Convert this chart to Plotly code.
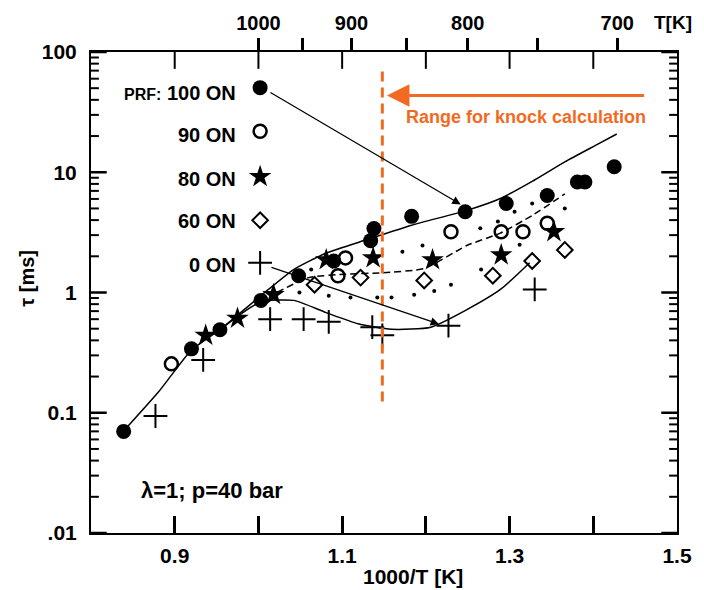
import numpy as np
import plotly.graph_objects as go

# Ignition delay of PRF blends, lambda = 1, p = 40 bar
# x: 1000/T [1/K], y: tau [ms]
prf100_x = [0.839, 0.920, 0.954, 1.003, 1.048, 1.090, 1.134, 1.138, 1.183,
            1.247, 1.296, 1.345, 1.381, 1.390, 1.425]
prf100_y = [0.070, 0.34, 0.49, 0.86, 1.38, 1.83, 2.7, 3.4, 4.3,
            4.7, 5.5, 6.4, 8.3, 8.3, 11.1]

prf90_x = [0.896, 1.095, 1.104, 1.230, 1.290, 1.316, 1.345]
prf90_y = [0.255, 1.38, 1.94, 3.2, 3.2, 3.2, 3.77]

prf80_x = [0.937, 0.975, 1.018, 1.081, 1.137, 1.208, 1.290, 1.353]
prf80_y = [0.44, 0.61, 0.96, 1.87, 1.94, 1.87, 2.05, 3.2]

prf60_x = [1.067, 1.122, 1.198, 1.280, 1.327, 1.366]
prf60_y = [1.16, 1.33, 1.26, 1.38, 1.83, 2.26]

prf0_x = [0.877, 0.934, 1.014, 1.054, 1.084, 1.136, 1.148, 1.227, 1.330]
prf0_y = [0.094, 0.275, 0.60, 0.60, 0.57, 0.515, 0.44, 0.53, 1.06]

# scattered small measurement dots between the curves
dots_x = [1.063, 1.049, 1.084, 1.110, 1.142, 1.159, 1.172, 1.196, 1.210,
          1.186, 1.230, 1.265, 1.266, 1.306, 1.327, 1.366, 1.286, 1.312]
dots_y = [1.55, 1.0, 0.94, 0.91, 0.91, 0.91, 2.18, 2.46, 1.03,
          0.96, 1.16, 3.42, 1.55, 4.7, 5.5, 5.0, 3.9, 2.5]

# model curves
upper_x = [0.839, 0.881, 0.920, 0.954, 1.002, 1.042, 1.081, 1.128, 1.183,
           1.249, 1.289, 1.327, 1.366, 1.406, 1.428]
upper_y = [0.0705, 0.150, 0.333, 0.49, 0.93, 1.55, 2.13, 2.73, 3.63,
           4.82, 6.05, 8.4, 12.2, 17.2, 20.8]

middle_x = [1.022, 1.060, 1.104, 1.148, 1.198, 1.249, 1.289, 1.327, 1.366]
middle_y = [1.0, 1.33, 1.42, 1.46, 1.58, 2.46, 3.12, 4.37, 6.6]

lower_x = [0.954, 1.002, 1.042, 1.081, 1.119, 1.159, 1.206, 1.249, 1.289, 1.324]
lower_y = [0.49, 0.83, 0.86, 0.68, 0.55, 0.495, 0.515, 0.72, 1.06, 1.77]

legend_labels = ["100 ON", "90 ON", "80 ON", "60 ON", "0 ON"]

x_ticks = [0.8, 0.9, 1.0, 1.1, 1.2, 1.3, 1.4, 1.5]
x_labels = ["", "0.9", "", "1.1", "", "1.3", "", "1.5"]

y_ticks = [0.01, 0.1, 1, 10, 100]
y_labels = [".01", "0.1", "1", "10", "100"]

temp_ticks = [1000, 950, 900, 850, 800, 750, 700]
temp_labels = ["1000", "", "900", "", "800", "", "700"]

knock_limit = 1.148          # 1000/T of the knock range border
knock_span = (0.124, 75.0)   # vertical extent of the border line

ORANGE = "#f26a21"
FONT = "Liberation Sans"

# plot box in pixels
L, R, T, B = 91, 687, 47, 533
W, H = 704, 590
X0, X1 = 0.8, 1.5
Y0, Y1 = -2, 2


def px_x(p):
    return (p - L) / (R - L)


def px_y(p):
    return (B - p) / (B - T)


def data_x(p):
    return X0 + (X1 - X0) * px_x(p)


def data_logy(p):
    return Y0 + (Y1 - Y0) * px_y(p)


fig = go.Figure()

line_style = dict(color="black", width=1.5)
fig.add_trace(go.Scatter(x=upper_x, y=upper_y, mode="lines", line=line_style,
                         line_shape="spline", line_smoothing=0.5, hoverinfo="skip"))
fig.add_trace(go.Scatter(x=middle_x, y=middle_y, mode="lines",
                         line=dict(color="black", width=1.5, dash="7px,4px"),
                         line_shape="spline", line_smoothing=0.5, hoverinfo="skip"))
fig.add_trace(go.Scatter(x=lower_x, y=lower_y, mode="lines", line=line_style,
                         line_shape="spline", line_smoothing=0.6, hoverinfo="skip"))

fig.add_trace(go.Scatter(x=dots_x, y=dots_y, mode="markers",
                         marker=dict(symbol="circle", size=4, color="black")))

styles = [
    dict(symbol="circle", size=15, color="black"),
    dict(symbol="circle-open", size=13, color="black", line=dict(width=2.5, color="black")),
    dict(symbol="star", size=17, color="black"),
    dict(symbol="diamond-open", size=12, color="black", line=dict(width=2, color="black")),
    dict(symbol="cross-thin-open", size=17, color="black", line=dict(width=2, color="black")),
]
series = [(prf100_x, prf100_y), (prf90_x, prf90_y), (prf80_x, prf80_y),
          (prf60_x, prf60_y), (prf0_x, prf0_y)]
for (sx, sy), st in zip(series, styles):
    fig.add_trace(go.Scatter(x=sx, y=sy, mode="markers", marker=st))

# legend keys
key_px_x = 263
key_px_y = [83, 127, 173, 217, 260]
text_px_y = [88, 131, 175, 218, 262]
for st, ky in zip(styles, key_px_y):
    fig.add_trace(go.Scatter(x=[data_x(key_px_x)], y=[10 ** data_logy(ky)],
                             mode="markers", marker=st, hoverinfo="skip"))

annotations = []
for i, (lab, ty) in enumerate(zip(legend_labels, text_px_y)):
    txt = ("<span style='font-size:16px'>PRF:</span> " + lab) if i == 0 else lab
    annotations.append(dict(xref="paper", yref="paper", x=px_x(241), y=px_y(ty),
                            xanchor="right", yanchor="middle", showarrow=False,
                            text=txt, font=dict(family=FONT, size=20, color="black",
                                                weight="bold")))

# black pointer arrows
annotations.append(dict(x=data_x(467), y=data_logy(201), ax=data_x(272), ay=data_logy(87),
                        xref="x", yref="y", axref="x", ayref="y", text="",
                        showarrow=True, arrowhead=2, arrowsize=1.3, arrowwidth=1.3,
                        arrowcolor="black"))
annotations.append(dict(x=data_x(445), y=data_logy(322), ax=data_x(273), ay=data_logy(264),
                        xref="x", yref="y", axref="x", ayref="y", text="",
                        showarrow=True, arrowhead=2, arrowsize=1.3, arrowwidth=1.3,
                        arrowcolor="black"))

# knock range arrow and caption
annotations.append(dict(x=data_x(392), y=data_logy(91), ax=data_x(655), ay=data_logy(91),
                        xref="x", yref="y", axref="x", ayref="y", text="",
                        showarrow=True, arrowhead=2, arrowsize=1.5, arrowwidth=3,
                        arrowcolor=ORANGE))
annotations.append(dict(xref="paper", yref="paper", x=px_x(409), y=px_y(113),
                        xanchor="left", yanchor="middle", showarrow=False,
                        text="Range for knock calculation",
                        font=dict(family=FONT, size=18, color=ORANGE, weight="bold")))

annotations.append(dict(xref="paper", yref="paper", x=px_x(140), y=px_y(490),
                        xanchor="left", yanchor="middle", showarrow=False,
                        text="λ=1; p=40 bar",
                        font=dict(family=FONT, size=22, color="black", weight="bold")))

# axis titles
annotations.append(dict(xref="paper", yref="paper", x=px_x(418), y=px_y(577),
                        xanchor="center", yanchor="middle", showarrow=False,
                        text="1000/T [K]",
                        font=dict(family=FONT, size=21, color="black", weight="bold")))
annotations.append(dict(xref="paper", yref="paper", x=px_x(26), y=px_y(276),
                        xanchor="center", yanchor="middle", showarrow=False,
                        text="τ [ms]", textangle=-90,
                        font=dict(family=FONT, size=20, color="black", weight="bold")))
annotations.append(dict(xref="paper", yref="paper", x=px_x(683), y=px_y(17),
                        xanchor="center", yanchor="middle", showarrow=False,
                        text="T[K]",
                        font=dict(family=FONT, size=19, color="black", weight="bold")))

shapes = [dict(type="line", xref="x", yref="y",
               x0=knock_limit, x1=knock_limit,
               y0=knock_span[0], y1=knock_span[1],
               line=dict(color=ORANGE, width=3, dash="10px,6px"))]

# inward tick marks on the left/right frame (major decades and minor 2..9)
MAJOR_LEN, MINOR_LEN = 16, 8
minor_vals = [m * 10.0 ** e for e in range(-2, 2) for m in range(2, 10)]
for vals, tl, tw in ((y_ticks, MAJOR_LEN, 2.5), (minor_vals, MINOR_LEN, 2)):
    dx = tl / (R - L)
    for v in vals:
        for side, sgn in ((0.0, 1), (1.0, -1)):
            shapes.append(dict(type="line", xref="paper", yref="y",
                               x0=side, x1=side + sgn * dx, y0=v, y1=v,
                               line=dict(color="black", width=tw)))

# inward tick marks along the top frame at the 1000/T positions
dy = 17 / (B - T)
for v in x_ticks[1:-1]:
    shapes.append(dict(type="line", xref="x", yref="paper",
                       x0=v, x1=v, y0=1.0, y1=1.0 - dy,
                       line=dict(color="black", width=2)))

# invisible trace carrying the temperature axis
fig.add_trace(go.Scatter(x=[X0, X1], y=[1, 1], xaxis="x2", mode="markers",
                         marker=dict(opacity=0), hoverinfo="skip"))

fig.update_layout(
    width=W, height=H, autosize=False,
    margin=dict(l=L, r=W - R, t=T, b=H - B),
    paper_bgcolor="white", plot_bgcolor="white",
    showlegend=False,
    annotations=annotations,
    shapes=shapes,
    xaxis=dict(range=[X0, X1], showgrid=False, zeroline=False,
               showline=True, linecolor="black", linewidth=2, mirror=True,
               ticks="inside", ticklen=17, tickwidth=2.5, tickcolor="black",
               tickvals=x_ticks, ticktext=x_labels,
               ticklabelstandoff=3,
               tickfont=dict(family=FONT, size=21, color="black", weight="bold")),
    xaxis2=dict(range=[X0, X1], overlaying="x", side="top", showgrid=False,
                zeroline=False, showline=True, linecolor="black", linewidth=2,
                ticks="outside", ticklen=12, tickwidth=2.5, tickcolor="black",
                tickvals=[1000.0 / t for t in temp_ticks], ticktext=temp_labels,
                ticklabelstandoff=0,
                tickfont=dict(family=FONT, size=20, color="black", weight="bold")),
    yaxis=dict(type="log", range=[Y0, Y1], showgrid=False, zeroline=False,
               showline=True, linecolor="black", linewidth=2, mirror=True,
               ticks="", tickvals=y_ticks, ticktext=y_labels,
               ticklabelstandoff=8,
               tickfont=dict(family=FONT, size=21, color="black", weight="bold")),
)

fig.write_html("out.html")
